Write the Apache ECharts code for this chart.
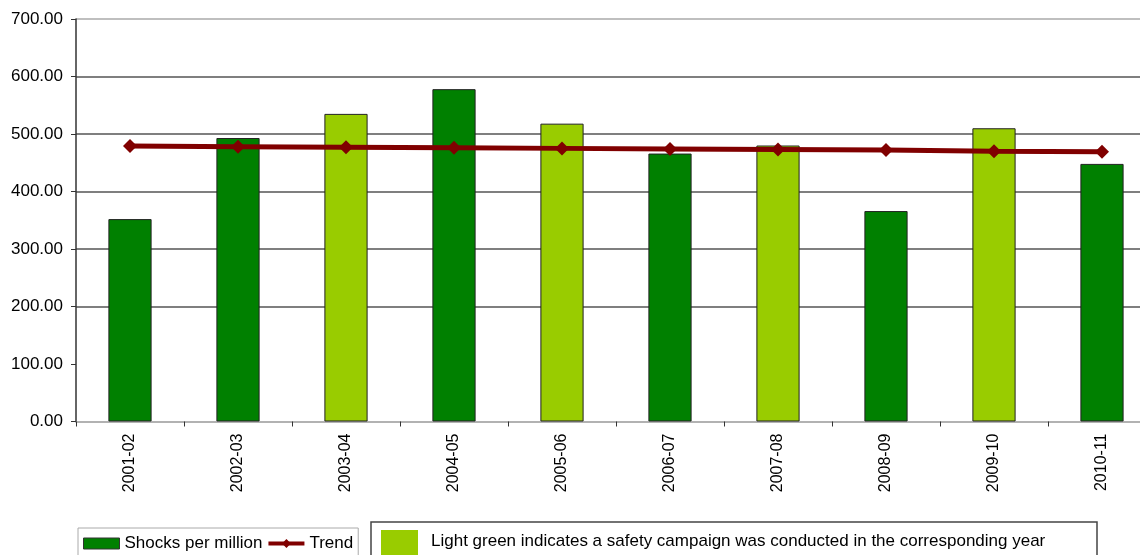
<!DOCTYPE html>
<html>
<head>
<meta charset="utf-8">
<script src="https://cdn.jsdelivr.net/npm/echarts@6/dist/echarts.min.js"></script>
<style>
html,body{margin:0;padding:0;background:#fff;}
#chart{width:1140px;height:555px;}
</style>
</head>
<body>
<div id="chart"></div>
<script>
var categories = ['2001-02','2002-03','2003-04','2004-05','2005-06','2006-07','2007-08','2008-09','2009-10','2010-11'];
var shocksPerMillion = [352, 493, 535, 578, 518, 466, 480, 366, 510, 448];
var campaignYear = [false, false, true, false, true, false, true, false, true, false];
var trendValues = [479, 478, 477, 476, 475, 474, 473, 472, 470, 469];
var yTicks = [0, 100, 200, 300, 400, 500, 600, 700];
var noteText = 'Light green indicates a safety campaign was conducted in the corresponding year';

var DARK = '#008000', LIGHT = '#99CC00', TREND = '#800000';
var FONT = 'Liberation Sans, Arial, sans-serif';

var chart = echarts.init(document.getElementById('chart'), null, {renderer: 'canvas'});

var barData = shocksPerMillion.map(function (v, i) {
  return {value: v, itemStyle: {color: campaignYear[i] ? LIGHT : DARK}};
});

chart.setOption({
  animation: false,
  backgroundColor: '#fff',
  textStyle: {fontFamily: FONT},
  grid: {left: 76, top: 19, width: 1080, height: 402.5, containLabel: false, outerBoundsMode: 'none'},
  legend: {
    left: 78, top: 528,
    itemWidth: 36, itemHeight: 11, itemGap: 4,
    padding: [7, 5, 7, 5],
    borderColor: '#aaa', borderWidth: 1,
    textStyle: {fontSize: 17, color: '#000', fontFamily: FONT},
    data: [
      {name: 'Shocks per million', icon: 'rect', itemStyle: {color: DARK, borderColor: '#333', borderWidth: 1}},
      {name: 'Trend', lineStyle: {width: 4, color: TREND}, itemStyle: {color: TREND}}
    ]
  },
  xAxis: {
    type: 'category',
    data: categories,
    axisLine: {lineStyle: {color: '#999', width: 1.5}},
    axisTick: {show: true, length: 5, lineStyle: {color: '#333'}},
    axisLabel: {rotate: 90, margin: 12, fontSize: 16, color: '#000', fontFamily: FONT},
    splitLine: {show: false}
  },
  yAxis: {
    type: 'value',
    min: yTicks[0], max: yTicks[yTicks.length - 1], interval: 100,
    axisLine: {show: true, lineStyle: {color: '#333', width: 1.5}},
    axisTick: {show: true, length: 5, lineStyle: {color: '#333'}},
    axisLabel: {margin: 13, fontSize: 17, color: '#000', fontFamily: FONT,
      formatter: function (v) { return v.toFixed(2); }},
    splitLine: {show: true, lineStyle: {width: 1.5,
      color: ['rgba(0,0,0,0)', 'rgba(0,0,0,0)', '#555', '#555', '#555', '#555', '#555', '#aaa']}}
  },
  series: [
    {
      name: 'Shocks per million',
      type: 'bar',
      data: barData,
      barWidth: '40%',
      itemStyle: {color: DARK, borderColor: '#222', borderWidth: 1}
    },
    {
      name: 'Trend',
      type: 'line',
      data: trendValues,
      symbol: 'diamond',
      symbolSize: 14,
      lineStyle: {color: TREND, width: 5},
      itemStyle: {color: TREND},
      z: 5
    }
  ],
  graphic: [
    {type: 'rect', shape: {x: 371, y: 522, width: 726, height: 44},
      style: {fill: '#fff', stroke: '#444', lineWidth: 1.5}},
    {type: 'rect', shape: {x: 381, y: 530, width: 37, height: 30},
      style: {fill: LIGHT}},
    {type: 'text', x: 431, y: 541,
      style: {text: noteText, fontSize: 17, fontFamily: FONT, fill: '#000', textVerticalAlign: 'middle'}}
  ]
});
</script>
</body>
</html>
